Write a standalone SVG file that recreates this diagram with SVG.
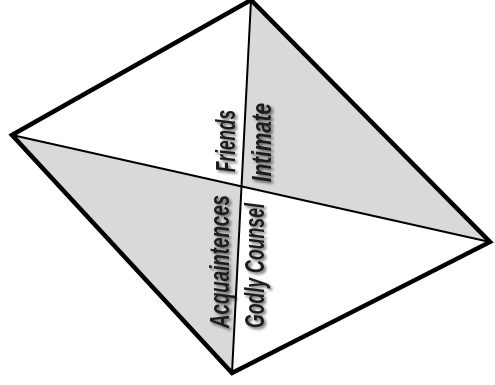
<svg xmlns="http://www.w3.org/2000/svg" width="495" height="385" viewBox="0 0 495 385">
<defs>
<filter id="sh" x="-20%" y="-20%" width="140%" height="140%">
<feGaussianBlur in="SourceAlpha" stdDeviation="1.5"/>
<feOffset dx="1.5" dy="1.5" result="b"/>
<feComponentTransfer><feFuncA type="linear" slope="0.6"/></feComponentTransfer>
<feMerge><feMergeNode/><feMergeNode in="SourceGraphic"/></feMerge>
</filter>
<filter id="bl" x="-5%" y="-5%" width="110%" height="110%">
<feGaussianBlur stdDeviation="0.6"/>
</filter>
</defs>
<style>
.shade{fill:#d9d9d9;stroke:none}
.diag{stroke:#000;stroke-width:2;fill:none}
.outer{stroke:#000;stroke-width:4.5;fill:none;stroke-linejoin:miter}
.lbl{font-family:"Liberation Sans",Arial,sans-serif;font-weight:bold;font-style:italic;font-size:28px;fill:#1a1a1a}
</style>
<rect width="495" height="385" fill="#fff"/>
<g id="shaded">
<polygon class="shade" points="251,0 241.5,186.4 490,242"/>
<polygon class="shade" points="12,135 241.5,186.4 232,373"/>
</g>
<g id="connectors" filter="url(#bl)">
<line class="diag" x1="12" y1="135" x2="490" y2="242"/>
<line class="diag" x1="251" y1="0" x2="232" y2="373"/>
<polygon class="outer" points="12,135 251,0 490,242 232,373"/>
</g>
<g id="friends" filter="url(#sh)">
<text class="lbl" transform="translate(235,172) rotate(-90)" textLength="62" lengthAdjust="spacingAndGlyphs">Friends</text>
</g>
<g id="intimate" filter="url(#sh)">
<text class="lbl" transform="translate(271,182) rotate(-90)" textLength="79" lengthAdjust="spacingAndGlyphs">Intimate</text>
</g>
<g id="acquaintences" filter="url(#sh)">
<text class="lbl" transform="translate(229,328) rotate(-90)" textLength="133" lengthAdjust="spacingAndGlyphs">Acquaintences</text>
</g>
<g id="godly-counsel" filter="url(#sh)">
<text class="lbl" transform="translate(264,328) rotate(-90)" textLength="125" lengthAdjust="spacingAndGlyphs">Godly Counsel</text>
</g>
</svg>
